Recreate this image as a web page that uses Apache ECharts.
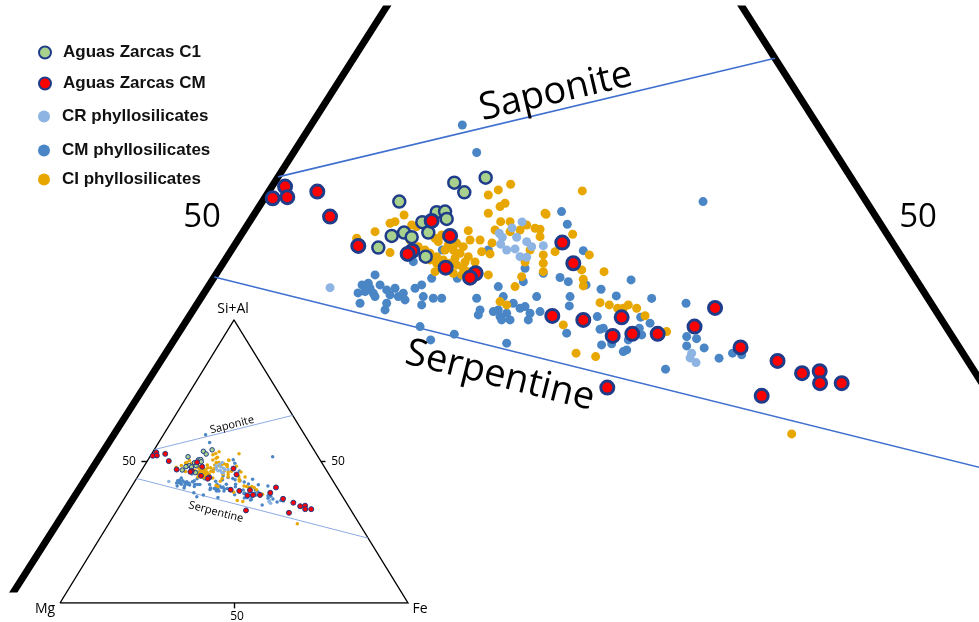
<!DOCTYPE html>
<html>
<head>
<meta charset="utf-8">
<title>Ternary Mg - Fe - Si+Al</title>
<script src="https://cdn.jsdelivr.net/npm/echarts@6.0.0/dist/echarts.min.js"></script>
<style>
  html, body { margin: 0; padding: 0; background: #fff; }
  #chart { width: 979px; height: 622px; }
</style>
</head>
<body>
<div id="chart"></div>
<script>
  // ternary points as [x, y]: x = Fe + (Si+Al)/2, y = Si+Al  (both in %)
  const cmPhyllo = [
    [41.84, 59.49], [42.99, 56.69], [61.10, 51.68], [49.78, 50.66], [50.24, 49.37], [51.52, 46.68],
    [40.24, 46.75], [43.92, 46.75], [37.92, 45.56], [46.86, 44.89],
    [34.86, 44.21], [34.32, 43.36], [34.06, 42.51], [34.72, 42.34], [34.86, 42.00], [34.46, 42.85],
    [33.66, 41.32], [33.82, 43.19], [33.50, 42.37], [35.26, 43.19], [35.79, 42.68], [36.06, 42.17],
    [36.46, 42.85], [36.72, 42.00], [37.12, 42.34], [37.26, 41.66], [35.79, 41.32], [35.66, 40.64],
    [38.06, 42.85], [38.59, 43.19], [38.72, 42.00], [38.59, 41.15], [39.52, 41.83], [40.19, 41.83],
    [39.39, 43.87], [41.44, 43.87], [38.46, 38.94], [39.31, 37.58], [41.20, 38.17],
    [42.99, 41.83], [43.26, 40.64], [43.12, 40.13], [44.32, 40.47], [44.86, 39.96], [44.72, 43.02],
    [45.12, 42.00], [44.72, 40.64], [45.39, 40.30], [44.99, 39.62], [45.66, 39.62], [45.92, 41.32],
    [46.46, 40.81], [46.86, 40.98], [47.12, 39.62], [47.26, 40.30], [48.06, 40.47], [47.79, 42.00],
    [46.72, 43.52], [48.32, 44.38], [49.66, 43.95], [50.32, 43.52], [50.46, 42.00], [50.40, 41.05],
    [45.39, 37.25], [50.19, 38.27],
    [51.74, 43.19], [52.94, 42.75], [55.34, 43.70], [54.16, 42.07], [56.99, 41.81], [52.64, 39.96],
    [52.86, 38.67], [52.98, 37.07], [53.79, 37.18], [54.99, 36.56], [55.39, 37.92], [56.11, 39.90],
    [56.86, 39.29], [56.00, 38.78], [56.19, 38.09], [55.12, 37.58], [54.72, 36.39], [53.12, 38.78],
    [59.74, 41.32], [59.79, 37.92], [59.79, 36.97], [60.58, 37.71], [61.19, 36.77], [62.38, 35.72],
    [63.46, 36.23], [64.19, 36.06], [58.10, 34.60]
  ]
  const ciPhyllo = [
    [33.39, 47.95], [34.86, 48.62], [36.06, 49.48], [36.46, 49.64], [37.18, 50.32], [37.79, 49.30],
    [38.19, 49.13], [36.06, 46.48], [39.66, 47.95], [40.19, 48.28], [39.92, 47.60], [40.72, 47.26],
    [41.39, 47.44], [41.92, 47.09], [42.32, 48.72], [41.12, 46.75], [41.66, 46.42], [42.32, 46.07],
    [39.26, 46.42], [39.79, 46.07], [40.32, 45.74], [40.86, 45.40], [41.39, 45.23], [41.92, 44.89],
    [39.79, 45.40], [39.26, 45.74], [38.32, 47.09], [38.72, 46.07], [39.66, 44.54], [41.12, 44.38],
    [41.79, 44.21], [42.32, 44.54], [43.92, 44.21], [43.26, 47.77], [43.39, 46.58], [44.06, 46.35],
    [43.92, 52.36], [43.92, 50.49], [44.72, 52.87], [44.86, 51.17], [45.26, 51.51], [45.71, 53.45],
    [44.91, 49.64], [45.66, 49.64], [45.66, 48.62], [46.46, 48.79], [46.99, 49.30], [47.66, 48.97],
    [48.46, 50.49], [48.06, 48.11], [48.32, 46.25], [48.32, 45.40], [48.32, 44.54], [46.06, 43.02],
    [44.86, 41.49], [45.39, 41.15], [46.59, 44.03], [49.92, 39.11], [51.44, 52.77], [48.54, 50.39],
    [48.06, 48.86], [49.26, 46.58], [50.67, 48.35], [52.00, 46.25], [51.39, 44.72], [51.52, 43.77],
    [51.52, 43.09], [53.18, 44.54], [52.86, 41.38], [53.60, 41.15], [54.27, 40.81], [54.72, 40.81],
    [55.12, 41.15], [55.79, 40.81], [56.46, 40.05], [58.19, 38.43], [50.94, 36.23], [52.51, 35.88],
    [68.19, 28.00], [42.46, 47.77], [42.86, 45.53], [40.46, 46.75], [44.46, 48.79], [44.22, 47.47],
    [47.26, 46.75], [46.86, 45.53], [40.62, 44.72], [41.26, 45.94], [42.06, 45.53], [38.86, 46.75],
    [37.66, 47.77]
  ]
  const crPhyllo = [
    [31.26, 42.91], [44.80, 48.46], [45.04, 48.05], [44.91, 47.34], [45.39, 46.75], [46.19, 48.05],
    [46.06, 46.86], [46.99, 47.60], [47.39, 47.09], [46.46, 46.07], [46.99, 46.01], [48.32, 47.19],
    [45.82, 49.00], [46.62, 49.61], [60.19, 36.23], [60.54, 35.27], [60.06, 35.75]
  ]
  const azC1 = [
    [36.80, 51.68], [41.20, 53.61], [42.00, 52.63], [43.71, 54.12], [39.79, 50.60], [40.46, 50.66],
    [40.59, 49.91], [38.64, 49.58], [39.12, 48.52], [37.18, 48.52], [37.79, 48.05], [36.19, 48.18],
    [35.12, 46.99], [38.91, 46.07]
  ]
  const azCM = [
    [26.67, 52.02], [27.66, 53.21], [27.84, 52.13], [30.24, 52.70], [31.26, 50.15], [33.52, 47.16],
    [39.39, 49.71], [40.86, 48.18], [37.84, 46.65], [37.47, 46.35], [40.51, 44.95], [42.91, 44.38],
    [42.46, 43.93], [49.84, 47.50], [50.72, 45.40], [49.04, 40.03], [51.52, 39.62], [54.59, 39.88],
    [53.87, 37.99], [55.44, 38.20], [57.47, 38.20], [62.06, 40.84], [60.42, 38.94], [64.10, 36.82],
    [67.06, 35.44], [69.02, 34.19], [70.43, 34.39], [70.46, 33.17], [72.19, 33.17], [65.79, 31.88],
    [53.44, 32.72]
  ]

  // triangle Mg - Si+Al - Fe and the two reference lines
  const triangleSides = [[0, 0], [50, 100], [100, 0], [0, 0]]
  const saponiteLine = [[27.1, 54.2], [66.85, 66.3]]
  const serpentineLine = [[22.0, 44.0], [88.55, 22.9]]
  const tick50 = [[[25, 50], [23.4, 50]], [[75, 50], [76.3, 50]], [[50, 0], [50, -1.9]]]
  const cornerLabels = ['Si+Al', 'Mg', 'Fe']
  const tickLabel = '50'

  const navy = '#1f3c8a'
  const groups = [
    { name: 'CM phyllosilicates', data: cmPhyllo, color: '#4a86c5', size: 9, small: 3.5 },
    { name: 'CI phyllosilicates', data: ciPhyllo, color: '#e8a700', size: 9, small: 3.5 },
    { name: 'CR phyllosilicates', data: crPhyllo, color: '#8db4e2', size: 9, small: 3.5 },
    { name: 'Aguas Zarcas C1', data: azC1, color: '#a9d18e', size: 12, small: 4.5, border: 2.5 },
    { name: 'Aguas Zarcas CM', data: azCM, color: '#ff0000', size: 13, small: 5, border: 3 }
  ]

  let series = [
    {
      type: 'lines', coordinateSystem: 'cartesian2d', xAxisIndex: 0, yAxisIndex: 0,
      polyline: true, silent: true,
      lineStyle: { color: '#000', width: 7, opacity: 1 },
      data: [{ coords: triangleSides }]
    },
    {
      type: 'lines', coordinateSystem: 'cartesian2d', xAxisIndex: 0, yAxisIndex: 0, silent: true,
      lineStyle: { color: '#4070cf', width: 1.6, opacity: 1 },
      data: [{ coords: saponiteLine }, { coords: serpentineLine }]
    },
    {
      type: 'lines', coordinateSystem: 'cartesian2d', xAxisIndex: 1, yAxisIndex: 1,
      polyline: true, silent: true,
      lineStyle: { color: '#000', width: 1.4, opacity: 1 },
      data: [{ coords: triangleSides }]
    },
    {
      type: 'lines', coordinateSystem: 'cartesian2d', xAxisIndex: 1, yAxisIndex: 1, silent: true,
      lineStyle: { color: '#8eabe3', width: 1, opacity: 1 },
      data: [{ coords: saponiteLine }, { coords: serpentineLine }]
    },
    {
      type: 'lines', coordinateSystem: 'cartesian2d', xAxisIndex: 1, yAxisIndex: 1, silent: true,
      clip: false,
      lineStyle: { color: '#000', width: 1.4, opacity: 1 },
      data: tick50.map(function (c) { return { coords: c } })
    }
  ]

  // big view and small inset, same points
  groups.forEach(function (g) {
    series.push({
      name: g.name, type: 'scatter', xAxisIndex: 0, yAxisIndex: 0,
      symbol: 'circle', symbolSize: g.size,
      itemStyle: { color: g.color, opacity: 1, borderColor: g.border ? navy : null, borderWidth: g.border || 0 },
      data: g.data
    })
    series.push({
      name: g.name, type: 'scatter', xAxisIndex: 1, yAxisIndex: 1,
      symbol: 'circle', symbolSize: g.small,
      itemStyle: { color: g.color, opacity: 1, borderColor: g.border ? navy : null, borderWidth: g.border ? 1 : 0 },
      data: g.data
    })
  })

  // one legend per row, rows are not evenly spaced in the picture
  const legendRows = [
    ['Aguas Zarcas C1', 44],
    ['Aguas Zarcas CM', 75],
    ['CR phyllosilicates', 108],
    ['CM phyllosilicates', 142],
    ['CI phyllosilicates', 171]
  ]
  let legends = legendRows.map(function (r) {
    return {
      left: 38, top: r[1], padding: 0, selectedMode: false,
      itemWidth: 26, itemHeight: 12,
      data: [{ name: r[0], icon: 'circle' }],
      textStyle: { fontFamily: '"Liberation Sans", Arial, sans-serif', fontWeight: 'bold', fontSize: 17, color: '#111' }
    }
  })

  function txt (text, x, y, size, rot) {
    return {
      type: 'text', x: x, y: y, rotation: rot || 0, silent: true, z: 100,
      style: {
        text: text, fill: '#000', align: 'center', verticalAlign: 'middle',
        font: size + 'px "Open Sans", "Noto Sans", sans-serif'
      }
    }
  }

  let option = {
    animation: false,
    backgroundColor: '#fff',
    legend: legends,
    grid: [
      { left: 12, top: 9, width: 967, height: 580 },
      { left: 60, top: 320, width: 348, height: 283 }
    ],
    xAxis: [
      { type: 'value', gridIndex: 0, min: 5.816, max: 83.176, show: false },
      { type: 'value', gridIndex: 1, min: 0, max: 100, show: false }
    ],
    yAxis: [
      { type: 'value', gridIndex: 0, min: 12.19, max: 71.315, show: false },
      { type: 'value', gridIndex: 1, min: 0, max: 100, show: false }
    ],
    graphic: [
      txt('Saponite', 556, 92, 38, 0.23),
      txt('Serpentine', 500, 376, 38, -0.245),
      txt(tickLabel, 202, 218, 33),
      txt(tickLabel, 918, 218, 33),
      txt(cornerLabels[0], 233, 309, 14),
      txt(cornerLabels[1], 45, 609, 14),
      txt(cornerLabels[2], 420, 609, 14),
      txt(tickLabel, 129, 462, 12),
      txt(tickLabel, 338, 462, 12),
      txt(tickLabel, 237, 617, 12),
      txt('Saponite', 232, 425, 11, 0.25),
      txt('Serpentine', 216, 512, 11, -0.255)
    ],
    series: series
  }

  let chart = echarts.init(document.getElementById('chart'))
  chart.setOption(option)
</script>
</body>
</html>
